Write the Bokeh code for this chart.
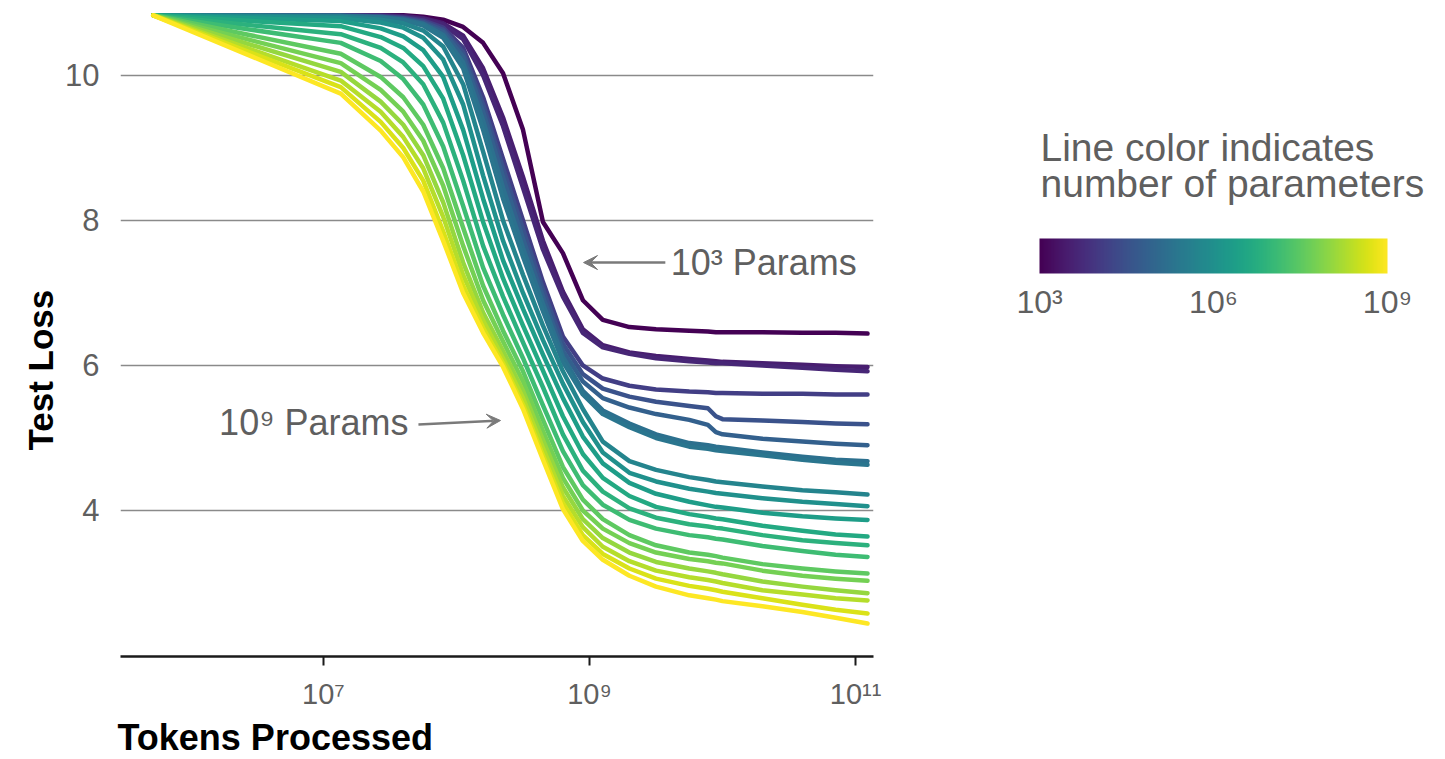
from bokeh.plotting import figure
from bokeh.models import (Range1d, FixedTicker, ColumnDataSource, LogColorMapper, ColorBar,
                          Arrow, VeeHead, Label, Title)
from bokeh.layouts import row
from bokeh.palettes import Viridis256
from bokeh.transform import transform
from bokeh.embed import file_html
from bokeh.resources import INLINE

# checkpoints (log10 of tokens processed) at which test loss was recorded
token_exp = [5.72, 7.13, 7.43, 7.6, 7.75, 7.9, 8.05, 8.2, 8.35, 8.5, 8.65, 8.8,
             8.95, 9.1, 9.3, 9.5, 9.75, 9.89, 9.95, 10.0, 10.3, 10.6, 10.85, 11.09]

# test loss per model size (number of parameters)
loss_1k = [10.83, 10.83, 10.83, 10.83, 10.81, 10.77, 10.67, 10.45, 10.03, 9.25, 7.98, 7.55,
           6.9, 6.63, 6.53, 6.5, 6.48, 6.47, 6.46, 6.46, 6.46, 6.45, 6.45, 6.44]
loss_3k = [10.83, 10.83, 10.83, 10.82, 10.79, 10.72, 10.55, 10.1, 9.42, 8.6, 7.72, 7.02,
           6.5, 6.28, 6.18, 6.13, 6.09, 6.07, 6.06, 6.05, 6.03, 6.01, 5.99, 5.98]
loss_4k = [10.83, 10.83, 10.83, 10.81, 10.78, 10.7, 10.5, 10.0, 9.3, 8.45, 7.6, 6.95,
           6.45, 6.25, 6.16, 6.1, 6.06, 6.04, 6.03, 6.03, 6.0, 5.97, 5.94, 5.92]
loss_13k = [10.83, 10.83, 10.82, 10.8, 10.76, 10.66, 10.38, 9.7, 8.85, 8.0, 7.15, 6.4,
            6.0, 5.82, 5.72, 5.67, 5.64, 5.63, 5.62, 5.62, 5.61, 5.61, 5.6, 5.6]
loss_32k = [10.83, 10.83, 10.81, 10.79, 10.74, 10.63, 10.32, 9.6, 8.72, 7.88, 7.05, 6.3,
            5.88, 5.68, 5.57, 5.5, 5.44, 5.41, 5.3, 5.26, 5.24, 5.22, 5.2, 5.19]
loss_71k = [10.83, 10.82, 10.81, 10.78, 10.72, 10.6, 10.26, 9.5, 8.6, 7.75, 6.95, 6.2,
            5.78, 5.55, 5.42, 5.33, 5.25, 5.18, 5.08, 5.05, 4.99, 4.95, 4.92, 4.9]
loss_160k = [10.83, 10.82, 10.8, 10.77, 10.71, 10.56, 10.18, 9.38, 8.45, 7.62, 6.85, 6.12,
             5.65, 5.38, 5.2, 5.05, 4.93, 4.9, 4.88, 4.87, 4.8, 4.74, 4.7, 4.68]
loss_220k = [10.83, 10.82, 10.8, 10.76, 10.69, 10.52, 10.1, 9.25, 8.3, 7.5, 6.75, 6.05,
             5.6, 5.33, 5.15, 5.0, 4.88, 4.85, 4.83, 4.82, 4.76, 4.7, 4.66, 4.63]
loss_500k = [10.83, 10.81, 10.77, 10.72, 10.62, 10.4, 9.88, 8.95, 8.0, 7.25, 6.55, 5.92,
             5.4, 4.95, 4.68, 4.56, 4.46, 4.42, 4.4, 4.39, 4.33, 4.28, 4.25, 4.22]
loss_1m = [10.83, 10.79, 10.73, 10.66, 10.52, 10.22, 9.6, 8.62, 7.72, 7.0, 6.35, 5.75,
           5.22, 4.8, 4.52, 4.4, 4.3, 4.26, 4.24, 4.23, 4.17, 4.12, 4.09, 4.06]
loss_2m = [10.83, 10.75, 10.65, 10.54, 10.35, 9.98, 9.25, 8.3, 7.45, 6.78, 6.15, 5.55,
           5.02, 4.65, 4.38, 4.23, 4.12, 4.07, 4.05, 4.04, 3.97, 3.92, 3.89, 3.87]
loss_4m = [10.83, 10.68, 10.53, 10.38, 10.13, 9.68, 8.9, 7.98, 7.2, 6.55, 5.93, 5.3,
           4.78, 4.45, 4.2, 4.05, 3.95, 3.91, 3.89, 3.88, 3.79, 3.72, 3.67, 3.64]
loss_7m = [10.83, 10.57, 10.38, 10.18, 9.88, 9.35, 8.55, 7.65, 6.95, 6.32, 5.7, 5.05,
           4.55, 4.26, 4.03, 3.9, 3.81, 3.78, 3.76, 3.75, 3.66, 3.59, 3.55, 3.52]
loss_14m = [10.83, 10.45, 10.2, 9.95, 9.6, 9.02, 8.2, 7.35, 6.7, 6.1, 5.45, 4.82,
            4.35, 4.08, 3.87, 3.75, 3.66, 3.63, 3.61, 3.6, 3.51, 3.44, 3.39, 3.36]
loss_32m = [10.83, 10.3, 9.98, 9.7, 9.32, 8.72, 7.9, 7.1, 6.48, 5.92, 5.25, 4.6,
            4.15, 3.88, 3.66, 3.52, 3.42, 3.39, 3.37, 3.35, 3.26, 3.2, 3.16, 3.13]
loss_56m = [10.83, 10.17, 9.8, 9.5, 9.1, 8.48, 7.65, 6.9, 6.33, 5.78, 5.1, 4.45,
            4.0, 3.75, 3.55, 3.42, 3.33, 3.3, 3.28, 3.27, 3.17, 3.1, 3.06, 3.03]
loss_110m = [10.83, 10.05, 9.64, 9.32, 8.9, 8.25, 7.42, 6.73, 6.2, 5.65, 4.97, 4.32,
             3.88, 3.62, 3.42, 3.29, 3.2, 3.16, 3.14, 3.12, 3.02, 2.95, 2.9, 2.86]
loss_220m = [10.83, 9.93, 9.5, 9.15, 8.72, 8.05, 7.25, 6.62, 6.1, 5.55, 4.86, 4.2,
             3.77, 3.5, 3.3, 3.17, 3.08, 3.04, 3.02, 3.0, 2.9, 2.84, 2.79, 2.76]
loss_450m = [10.83, 9.84, 9.36, 9.0, 8.55, 7.85, 7.1, 6.52, 6.03, 5.46, 4.76, 4.1,
             3.66, 3.4, 3.2, 3.06, 2.96, 2.92, 2.9, 2.88, 2.79, 2.7, 2.63, 2.58]
loss_1b = [10.83, 9.75, 9.24, 8.87, 8.4, 7.72, 7.0, 6.45, 5.98, 5.4, 4.7, 4.02,
           3.58, 3.32, 3.1, 2.95, 2.83, 2.79, 2.77, 2.75, 2.68, 2.6, 2.52, 2.44]

param_counts = [1.0e3, 3.2e3, 4.5e3, 1.3e4, 3.2e4, 7.1e4, 1.6e5, 2.2e5, 5.0e5, 1.0e6,
                2.2e6, 4.5e6, 7.1e6, 1.4e7, 3.2e7, 5.6e7, 1.1e8, 2.2e8, 4.5e8, 1.0e9]
curves = [loss_1k, loss_3k, loss_4k, loss_13k, loss_32k, loss_71k, loss_160k, loss_220k,
          loss_500k, loss_1m, loss_2m, loss_4m, loss_7m, loss_14m, loss_32m, loss_56m,
          loss_110m, loss_220m, loss_450m, loss_1b]

x_ticks = [1e7, 1e9, 1e11]
x_tick_labels = {1e7: "10⁷", 1e9: "10⁹", 1e11: "10¹¹"}
y_ticks = [4, 6, 8, 10]
cbar_ticks = [1e3, 1e6, 1e9]
cbar_tick_labels = {1e3: "10³", 1e6: "10⁶", 1e9: "10⁹"}

FONT = "Liberation Sans"
GREY_TEXT = "#5f5f5f"
W1, W2, H = 900, 545, 759

tokens = [10 ** e for e in token_exp]
mapper = LogColorMapper(palette=Viridis256, low=1e3, high=1e9)

p = figure(width=W1, height=H, x_axis_type="log",
           x_range=Range1d(10 ** 5.474, 10 ** 11.135), y_range=Range1d(1.986, 10.924),
           output_backend="svg", toolbar_location=None, title=None,
           min_border_left=120, min_border_right=27, min_border_top=8, min_border_bottom=103)
p.outline_line_color = None
p.xgrid.grid_line_color = None
p.ygrid.grid_line_color = "#8a8a8a"
p.ygrid.grid_line_width = 1.3

yax = p.yaxis[0]
yax.ticker = FixedTicker(ticks=y_ticks)
yax.axis_line_color = None
yax.major_tick_line_color = None
yax.minor_tick_line_color = None
yax.major_label_text_font = FONT
yax.major_label_text_font_size = "31px"
yax.major_label_text_color = GREY_TEXT
yax.major_label_standoff = 15

xax = p.xaxis[0]
xax.ticker = FixedTicker(ticks=x_ticks)
xax.major_label_overrides = x_tick_labels
xax.axis_line_color = "#1a1a1a"
xax.axis_line_width = 2.5
xax.major_tick_line_color = "#1a1a1a"
xax.major_tick_line_width = 2
xax.major_tick_out = 9
xax.major_tick_in = 0
xax.minor_tick_line_color = None
xax.major_label_text_font = FONT
xax.major_label_text_font_size = "29px"
xax.major_label_text_color = GREY_TEXT
xax.major_label_standoff = 12

p.add_layout(Title(text="Tokens Processed", align="left", offset=-3, standoff=4,
                   text_font=FONT, text_font_size="36px", text_font_style="bold",
                   text_color="black"), "below")
p.add_layout(Title(text="Test Loss", align="left", offset=206, standoff=6,
                   text_font=FONT, text_font_size="35px", text_font_style="bold",
                   text_color="black"), "left")

src = ColumnDataSource(dict(xs=[tokens] * len(curves), ys=curves, params=param_counts))
p.multi_line("xs", "ys", source=src, line_color=transform("params", mapper),
             line_width=4.5, line_join="round", line_cap="round")

ARROW_GREY = "#7a7a7a"
p.add_layout(Arrow(end=VeeHead(size=14, fill_color=ARROW_GREY, line_color=ARROW_GREY),
                   x_start=10 ** 9.57, y_start=7.42, x_end=10 ** 8.955, y_end=7.42,
                   line_color=ARROW_GREY, line_width=2.5))
p.add_layout(Label(x=10 ** 9.61, y=7.42, text="10³ Params", text_baseline="middle",
                   text_font=FONT, text_font_size="36px", text_color=GREY_TEXT))
p.add_layout(Arrow(end=VeeHead(size=14, fill_color=ARROW_GREY, line_color=ARROW_GREY),
                   x_start=10 ** 7.714, y_start=5.186, x_end=10 ** 8.331, y_end=5.241,
                   line_color=ARROW_GREY, line_width=2.5))
p.add_layout(Label(x=10 ** 7.64, y=5.22, text="10⁹ Params", text_align="right",
                   text_baseline="middle", text_font=FONT, text_font_size="36px",
                   text_color=GREY_TEXT))

# colour key panel
q = figure(width=W2, height=H, x_range=Range1d(0, W2), y_range=Range1d(0, H),
           output_backend="svg", toolbar_location=None, title=None,
           x_axis_location=None, y_axis_location=None, min_border=0)
q.outline_line_color = None
q.grid.visible = False

cb = ColorBar(color_mapper=mapper, orientation="horizontal", width=348, height=35,
              location=(139, 334), padding=0, ticker=FixedTicker(ticks=cbar_ticks),
              major_label_overrides=cbar_tick_labels, major_tick_line_color=None,
              minor_tick_line_color=None, bar_line_color=None, border_line_color=None,
              background_fill_alpha=0, label_standoff=10,
              major_label_text_font=FONT, major_label_text_font_size="32px",
              major_label_text_color=GREY_TEXT)
q.add_layout(cb, "center")
q.add_layout(Label(x=140, y=H - 163, text="Line color indicates", text_baseline="alphabetic",
                   text_font=FONT, text_font_size="39px", text_color=GREY_TEXT))
q.add_layout(Label(x=140, y=H - 205, text="number of parameters", text_baseline="alphabetic",
                   text_font=FONT, text_font_size="39px", text_color=GREY_TEXT))

layout = row(p, q)
open("out.html", "w").write(file_html(layout, INLINE))
